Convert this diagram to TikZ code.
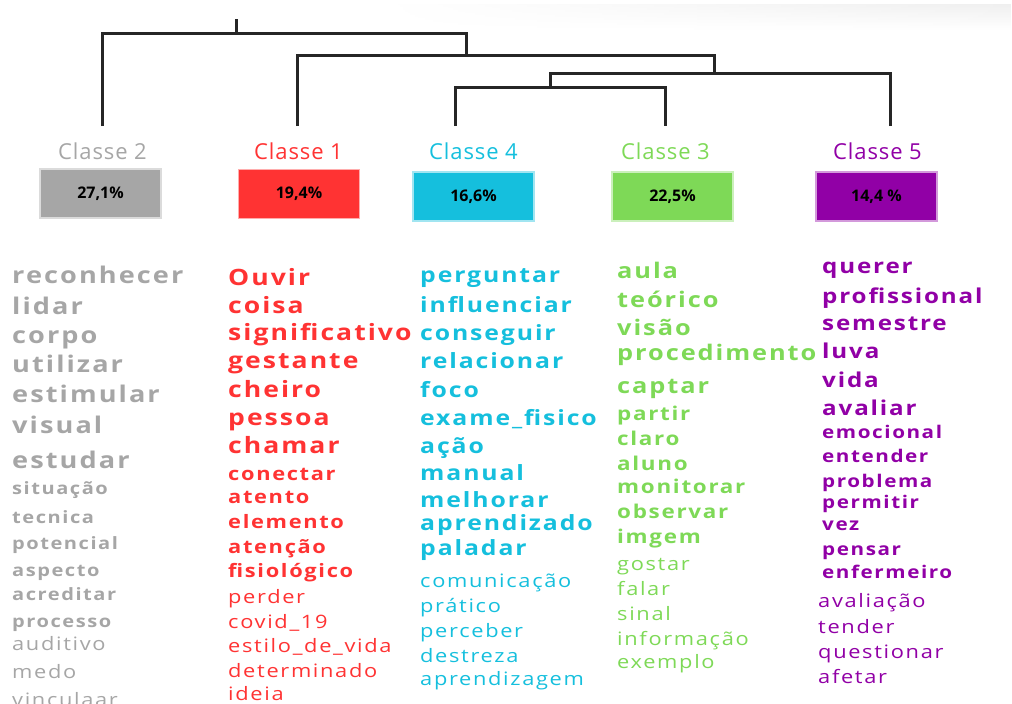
\documentclass[tikz,border=0pt]{standalone}
\usepackage{fontspec}
\usetikzlibrary{fadings}
\setmainfont{Open Sans}
\newfontfamily\wf[FakeStretch=1.18, LetterSpace=9]{Open Sans}
\newfontfamily\lf[LetterSpace=4]{Open Sans}
\definecolor{cgray}{HTML}{A6A6A6}
\definecolor{cred}{HTML}{FF3333}
\definecolor{ccyan}{HTML}{15BFDD}
\definecolor{cgreen}{HTML}{7ED957}
\definecolor{cpurple}{HTML}{9100A6}
\tikzset{
  dend/.style={line width=3pt, draw=black!85},
  clab/.style={anchor=base, inner sep=0pt, font=\lf\fontsize{22}{22}\selectfont},
  pbox/.style={minimum width=121pt, minimum height=49pt, inner sep=0pt, line width=1.2pt,
    font=\bfseries\fontsize{16}{16}\selectfont, text=black},
  word/.style={anchor=base west, inner sep=0pt},
  big/.style={word, font=\wf\bfseries\fontsize{#1}{#1}\selectfont},
  reg/.style={word, font=\wf\fontsize{#1}{#1}\selectfont},
}
\begin{document}
\begin{tikzpicture}[x=1pt,y=-1pt]
\useasboundingbox (0,0) rectangle (1012,704);
\clip (0,0) rectangle (1012,704);
\shade[top color=black!6, bottom color=white, path fading=west] (380,5) rectangle (1012,30);
% dendrogram
\coordinate (root) at (236,19);
\coordinate (a) at (236,33);  \coordinate (aL) at (102,33);  \coordinate (aR) at (466,33);
\coordinate (bL) at (297,55); \coordinate (bR) at (714,55);  \coordinate (b) at (466,55);
\coordinate (cL) at (550,73); \coordinate (cR) at (890,73);  \coordinate (c) at (714,73);
\coordinate (dL) at (455,87); \coordinate (dR) at (665,87);  \coordinate (d) at (550,87);
\coordinate (t2) at (102,126); \coordinate (t1) at (297,126); \coordinate (t4) at (455,126);
\coordinate (t3) at (665,126); \coordinate (t5) at (890,126);
\draw[dend] (root) -- (a);
\draw[dend] (t2) -- (aL) -- (aR) -- (b);
\draw[dend] (t1) -- (bL) -- (bR) -- (c);
\draw[dend] (t5) -- (cR) -- (cL) -- (d);
\draw[dend] (t4) -- (dL) -- (dR) -- (t3);
% class labels
\node[clab, text=cgray]   (l2) at (102.5,159) {Classe 2};
\node[clab, text=cred]    (l1) at (298.5,159) {Classe 1};
\node[clab, text=ccyan]   (l4) at (473.5,159) {Classe 4};
\node[clab, text=cgreen]  (l3) at (665.5,159) {Classe 3};
\node[clab, text=cpurple] (l5) at (877.5,159) {Classe 5};
% boxes
\node[pbox, fill=cgray, draw=cgray!40]     (b2) at (100.5,193.5) {27,1\%};
\node[pbox, fill=cred, draw=cred!40]       (b1) at (299,194) {19,4\%};
\node[pbox, fill=ccyan, draw=ccyan!40]     (b4) at (473.5,196.5) {16,6\%};
\node[pbox, fill=cgreen, draw=cgreen!40]   (b3) at (672.5,196.5) {22,5\%};
\node[pbox, fill=cpurple, draw=cpurple!40] (b5) at (876.5,196.5) {14,4 \%};
% Classe 2 words
\foreach \t/\y [count=\i] in {reconhecer/283,lidar/314,corpo/343,utilizar/372,estimular/402,visual/433,estudar/468}
  \node[big=23, text=cgray] (ga\i) at (12,\y) {\t};
\foreach \t/\y [count=\i] in {situação/494,tecnica/523,potencial/549,aspecto/576,acreditar/600,processo/627}
  \node[big=17, text=cgray] (gb\i) at (12,\y) {\t};
\foreach \t/\y [count=\i] in {auditivo/650,medo/678,vinculaar/706}
  \node[reg=18.5, text=cgray] (gc\i) at (12,\y) {\t};
% Classe 1 words
\foreach \t/\y [count=\i] in {Ouvir/285,coisa/313,significativo/340,gestante/368,cheiro/397,pessoa/425,chamar/453}
  \node[big=22.5, text=cred] (ra\i) at (228,\y) {\t};
\foreach \t/\y [count=\i] in {conectar/480,atento/503,elemento/528,atenção/553,fisiológico/577}
  \node[big=18.5, text=cred] (rb\i) at (228,\y) {\t};
\foreach \t/\y [count=\i] in {perder/603,covid\_19/628,estilo\_de\_vida/652,determinado/677,ideia/700}
  \node[reg=18.5, text=cred] (rc\i) at (228,\y) {\t};
% Classe 4 words
\foreach \t/\y [count=\i] in {perguntar/282,influenciar/312,conseguir/340,relacionar/368,foco/397,exame\_fisico/425,ação/453,manual/480,melhorar/507,aprendizado/530,paladar/555}
  \node[big=21, text=ccyan] (ca\i) at (420,\y) {\t};
\foreach \t/\y [count=\i] in {comunicação/587,prático/612,perceber/637,destreza/662,aprendizagem/685}
  \node[reg=18.5, text=ccyan] (cc\i) at (420,\y) {\t};
% Classe 3 words
\foreach \t/\y [count=\i] in {aula/278,teórico/307,visão/335,procedimento/360,captar/393}
  \node[big=21.5, text=cgreen] (va\i) at (617,\y) {\t};
\foreach \t/\y [count=\i] in {partir/420,claro/445,aluno/470,monitorar/493,observar/518,imgem/543}
  \node[big=19, text=cgreen] (vb\i) at (617,\y) {\t};
\foreach \t/\y [count=\i] in {gostar/570,falar/595,sinal/620,informação/645,exemplo/668}
  \node[reg=18.5, text=cgreen] (vc\i) at (617,\y) {\t};
% Classe 5 words
\foreach \t/\y [count=\i] in {querer/273,profissional/303,semestre/330,luva/358,vida/387,avaliar/415}
  \node[big=20.5, text=cpurple] (pa\i) at (822,\y) {\t};
\foreach \t/\y [count=\i] in {emocional/438,entender/462,problema/487,permitir/508,vez/530,pensar/555,enfermeiro/578}
  \node[big=17.5, text=cpurple] (pb\i) at (822,\y) {\t};
\foreach \t/\y [count=\i] in {avaliação/607,tender/633,questionar/658,afetar/683}
  \node[reg=18.5, text=cpurple] (pc\i) at (818,\y) {\t};
\end{tikzpicture}
\end{document}
